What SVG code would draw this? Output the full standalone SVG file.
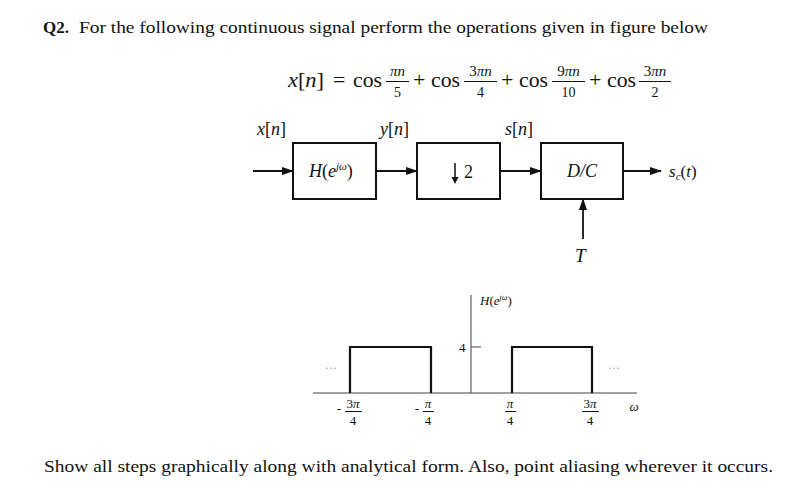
<svg xmlns="http://www.w3.org/2000/svg" width="794" height="495" viewBox="0 0 794 495">
<defs>
<marker id="ah" markerWidth="12" markerHeight="8" refX="11" refY="4" orient="auto" markerUnits="userSpaceOnUse">
<path d="M0,0 L12,4 L0,8 Z" fill="#111"/>
</marker>
<style>
.t{font-family:"Liberation Serif","Times New Roman",serif;fill:#111}
.i{font-style:italic}
.box{fill:#fff;stroke:#111;stroke-width:2}
.ln{stroke:#111;stroke-width:1.8;fill:none}
.ax{stroke:#444;stroke-width:1;fill:none}
.rc{stroke:#111;stroke-width:2.2;fill:none}
.bar{stroke:#111;stroke-width:1}
.dots{font-family:"Liberation Serif",serif;fill:#999;font-size:12px}
.eq{font-family:"Liberation Serif","Times New Roman",serif;fill:#111}
</style>
</defs>
<rect width="794" height="495" fill="#fff"/>

<g id="title">
<text class="t" x="43" y="33" font-size="17" font-weight="bold">Q2.</text>
<text class="t" x="79" y="33" font-size="17" textLength="629" lengthAdjust="spacingAndGlyphs">For the following continuous signal perform the operations given in figure below</text>
</g>

<g id="equation" class="eq">
<text x="288" y="87" font-size="22" textLength="36" lengthAdjust="spacingAndGlyphs"><tspan class="i">x</tspan>[<tspan class="i">n</tspan>]</text>
<text x="333" y="87" font-size="22">=</text>
<text x="353" y="87" font-size="22" textLength="29" lengthAdjust="spacingAndGlyphs">cos</text>
<text x="397.5" y="76" font-size="15" text-anchor="middle" class="i">πn</text>
<line class="bar" x1="386" y1="81.5" x2="409" y2="81.5"/>
<text x="397.5" y="97" font-size="14" text-anchor="middle">5</text>
<text x="413" y="87" font-size="22">+</text>
<text x="431" y="87" font-size="22" textLength="29" lengthAdjust="spacingAndGlyphs">cos</text>
<text x="480.5" y="76" font-size="15" text-anchor="middle">3<tspan class="i">πn</tspan></text>
<line class="bar" x1="464" y1="81.5" x2="497" y2="81.5"/>
<text x="480.5" y="97" font-size="14" text-anchor="middle">4</text>
<text x="501" y="87" font-size="22">+</text>
<text x="519" y="87" font-size="22" textLength="29" lengthAdjust="spacingAndGlyphs">cos</text>
<text x="568.5" y="76" font-size="15" text-anchor="middle">9<tspan class="i">πn</tspan></text>
<line class="bar" x1="552" y1="81.5" x2="585" y2="81.5"/>
<text x="568.5" y="97" font-size="14" text-anchor="middle">10</text>
<text x="589" y="87" font-size="22">+</text>
<text x="607" y="87" font-size="22" textLength="29" lengthAdjust="spacingAndGlyphs">cos</text>
<text x="655" y="76" font-size="15" text-anchor="middle">3<tspan class="i">πn</tspan></text>
<line class="bar" x1="639" y1="81.5" x2="671" y2="81.5"/>
<text x="655" y="97" font-size="14" text-anchor="middle">2</text>
</g>

<g id="connectors">
<line class="ln" x1="253" y1="171" x2="293" y2="171" marker-end="url(#ah)"/>
<line class="ln" x1="376" y1="171" x2="417" y2="171" marker-end="url(#ah)"/>
<line class="ln" x1="500" y1="171" x2="541" y2="171" marker-end="url(#ah)"/>
<line class="ln" x1="623" y1="171" x2="661" y2="171" marker-end="url(#ah)"/>
<line class="ln" x1="583" y1="239" x2="583" y2="199" marker-end="url(#ah)"/>
</g>

<g id="labels" class="t i" font-size="18">
<text x="257" y="135"><tspan>x</tspan><tspan font-style="normal">[</tspan>n<tspan font-style="normal">]</tspan></text>
<text x="380" y="135">y<tspan font-style="normal">[</tspan>n<tspan font-style="normal">]</tspan></text>
<text x="505" y="135">s<tspan font-style="normal">[</tspan>n<tspan font-style="normal">]</tspan></text>
<text x="669" y="177" font-size="17">s<tspan font-size="11" dy="3">c</tspan><tspan dy="-3" font-style="normal">(</tspan>t<tspan font-style="normal">)</tspan></text>
<text x="575" y="262" font-size="19">T</text>
</g>

<g id="node-h">
<rect class="box" x="293" y="143" width="83" height="56"/>
<text class="t i" x="309" y="177" font-size="18">H<tspan font-style="normal">(</tspan>e<tspan font-size="11" dy="-7">jω</tspan><tspan font-style="normal" dy="7">)</tspan></text>
</g>

<g id="node-down">
<rect class="box" x="417" y="143" width="83" height="56"/>
<line x1="455" y1="163" x2="455" y2="181" stroke="#111" stroke-width="1.5"/>
<path d="M451.5,177 L455,184 L458.5,177 Z" fill="#111"/>
<text class="t" x="464" y="178" font-size="18">2</text>
</g>

<g id="node-dc">
<rect class="box" x="541" y="143" width="82" height="56"/>
<text class="t i" x="582" y="177" font-size="18" text-anchor="middle">D/C</text>
</g>

<g id="plot">
<line class="ax" x1="313" y1="393" x2="637" y2="393"/>
<line class="ax" x1="471" y1="295" x2="471" y2="393"/>
<line class="ax" x1="471" y1="347" x2="481" y2="347"/>
<text class="t" x="459" y="352" font-size="13">4</text>
<text class="t i" x="480" y="305" font-size="13">H<tspan font-style="normal">(</tspan>e<tspan font-size="8" dy="-5">jω</tspan><tspan font-style="normal" dy="5">)</tspan></text>
<polyline class="rc" points="350,393 350,347 431,347 431,393"/>
<polyline class="rc" points="512,393 512,347 592,347 592,393"/>
<text class="dots" x="325" y="372">···</text>
<text class="dots" x="608" y="372">···</text>
<g class="t" font-size="13" text-anchor="middle">
<text x="339" y="413">-</text>
<text x="353" y="408">3<tspan class="i">π</tspan></text>
<line class="bar" x1="345" y1="411.5" x2="362" y2="411.5"/>
<text x="353" y="425">4</text>
<text x="417" y="413">-</text>
<text x="428" y="408" class="i">π</text>
<line class="bar" x1="423" y1="411.5" x2="434" y2="411.5"/>
<text x="428" y="425">4</text>
<text x="510" y="408" class="i">π</text>
<line class="bar" x1="505" y1="411.5" x2="516" y2="411.5"/>
<text x="510" y="425">4</text>
<text x="590" y="408">3<tspan class="i">π</tspan></text>
<line class="bar" x1="582" y1="411.5" x2="599" y2="411.5"/>
<text x="590" y="425">4</text>
<text x="634" y="411" class="i">ω</text>
</g>
</g>

<g id="footer">
<text class="t" x="44" y="472" font-size="17" textLength="729" lengthAdjust="spacingAndGlyphs">Show all steps graphically along with analytical form. Also, point aliasing wherever it occurs.</text>
</g>
</svg>
